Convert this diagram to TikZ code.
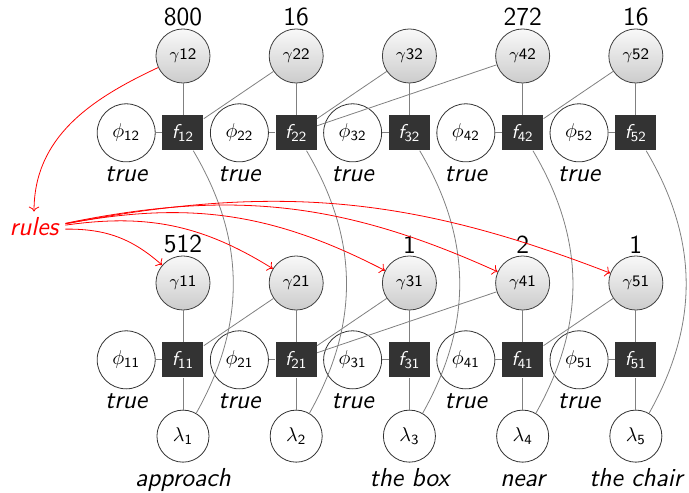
\documentclass[tikz,border=0pt]{standalone}
\usepackage{amsmath}
\usetikzlibrary{positioning, arrows.meta}
\tikzset{
  gammanode/.style={circle, draw=black!75, top color=gray!5, bottom color=gray!40, minimum size=0.95cm, inner sep=0pt, font=\sffamily\footnotesize},
  phinode/.style={circle, draw=black!80, minimum size=1.02cm, inner sep=0pt},
  factor/.style={rectangle, fill=black!80, text=white, minimum width=0.72cm, minimum height=0.615cm, inner sep=0pt, font=\sffamily},
  lamnode/.style={circle, draw=black!80, minimum size=0.915cm, inner sep=0pt},
  word/.style={font=\sffamily\itshape\fontsize{13}{15}\selectfont, text height=8.6pt, text depth=2.6pt},
  count/.style={font=\sffamily\fontsize{13}{15}\selectfont, inner sep=1pt},
  link/.style={gray},
}

\begin{document}
\begin{tikzpicture}
    \useasboundingbox (0,0) rectangle (12.11,-8.66);
    \node (rules) [word, text=red] at (0.598,-4.04) {rules};
    % upper row
    \foreach \i in {1,...,5} {
        \node (g\i2) [gammanode] at ({3.216+1.99*(\i-1)},-0.984) {$\gamma$\i2};
        \node (f\i2) [factor, below=0.554cm of g\i2] {{\itshape f}$_{\mathsf{\i2}}$};
        \node (p\i2) [phinode, left=0.114cm of f\i2] {$\phi_{\mathsf{\i2}}$};
        \node (t\i2) [word, below=-2.5pt of p\i2] {true};
    }
    % lower row
    \foreach \i in {1,...,5} {
        \node (g\i1) [gammanode] at ({3.216+1.99*(\i-1)},-4.974) {$\gamma$\i1};
        \node (f\i1) [factor, below=0.554cm of g\i1] {{\itshape f}$_{\mathsf{\i1}}$};
        \node (p\i1) [phinode, left=0.114cm of f\i1] {$\phi_{\mathsf{\i1}}$};
        \node (t\i1) [word, below=-2.5pt of p\i1] {true};
        \node (l\i) [lamnode, below=0.562cm of f\i1] {$\lambda_{\mathsf{\i}}$};
    }
    % counts
    \foreach \i/\n in {1/800, 2/16, 4/272, 5/16}
        \node (c\i2) [count, above=0pt of g\i2] {\n};
    \foreach \i/\n in {1/512, 3/1, 4/2, 5/1}
        \node (c\i1) [count, above=0pt of g\i1] {\n};
    % words
    \foreach \i/\w in {1/approach, 3/the box, 4/near, 5/the chair}
        \node (w\i) [word, below=0pt of l\i] {\w};
    % links
    \foreach \i in {1,...,5} {
        \draw [link] (g\i2) -- (f\i2);
        \draw [link] (p\i2) -- (f\i2);
        \draw [link] (g\i1) -- (f\i1);
        \draw [link] (p\i1) -- (f\i1);
        \draw [link] (f\i1) -- (l\i);
        \draw [link] (f\i2) to [bend left=30] (l\i);
    }
    \foreach \a/\b in {2/1, 3/2, 4/2, 5/4} {
        \draw [link] (g\a2) -- (f\b2);
        \draw [link] (g\a1) -- (f\b1);
    }
    % rules
    \draw [red, ->] (g12) to [out=205, in=90] (rules);
    \foreach \i/\b in {1/21, 2/20, 3/19, 4/18, 5/16}
        \draw [red, ->] (rules) to [bend left=\b] (g\i1);
\end{tikzpicture}
\end{document}
